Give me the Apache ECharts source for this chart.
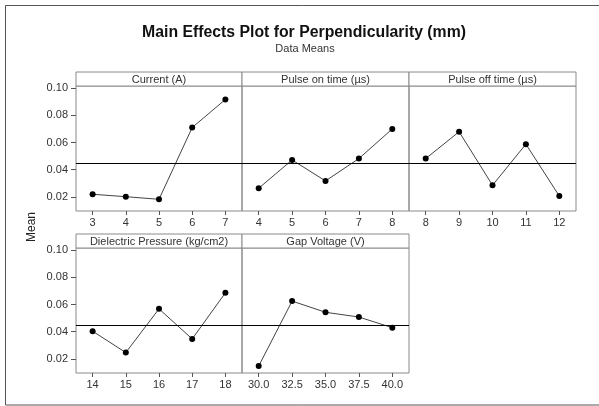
<!DOCTYPE html>
<html>
<head>
<meta charset="utf-8">
<script src="https://cdn.jsdelivr.net/npm/echarts@6/dist/echarts.min.js"></script>
<style>
html,body{margin:0;padding:0;background:#fff;}
#chart{width:599px;height:406px;}
</style>
</head>
<body>
<div id="chart"></div>
<script>
// ---- data ----
const chartTitle = 'Main Effects Plot for Perpendicularity (mm)';
const chartSubtitle = 'Data Means';
const yAxisTitle = 'Mean';
const factorNames = ['Current (A)', 'Pulse on time (µs)', 'Pulse off time (µs)', 'Dielectric Pressure (kg/cm2)', 'Gap Voltage (V)'];
const currentLevels = ['3', '4', '5', '6', '7'];
const currentMeans = [0.0220, 0.0202, 0.0183, 0.0710, 0.0916];
const pulseOnLevels = ['4', '5', '6', '7', '8'];
const pulseOnMeans = [0.0264, 0.0472, 0.0318, 0.0482, 0.0700];
const pulseOffLevels = ['8', '9', '10', '11', '12'];
const pulseOffMeans = [0.0482, 0.0679, 0.0286, 0.0588, 0.0207];
const pressureLevels = ['14', '15', '16', '17', '18'];
const pressureMeans = [0.0404, 0.0247, 0.0568, 0.0347, 0.0686];
const gapLevels = ['30.0', '32.5', '35.0', '37.5', '40.0'];
const gapMeans = [0.0148, 0.0625, 0.0543, 0.0508, 0.0430];
const grandMean = 0.0450;
const yTicks = [0.02, 0.04, 0.06, 0.08, 0.10];

const levels = [currentLevels, pulseOnLevels, pulseOffLevels, pressureLevels, gapLevels];
const means = [currentMeans, pulseOnMeans, pulseOffMeans, pressureMeans, gapMeans];

// ---- layout ----
const panelH = 125, headerH = 14;
const colEdges = [76, 242, 409, 576];
const rowTops = [86, 248];
const panelPos = [
  {col: 0, row: 0}, {col: 1, row: 0}, {col: 2, row: 0},
  {col: 0, row: 1}, {col: 1, row: 1}
];
const FONT = 'Liberation Sans';
const frameColor = '#8a8a8a';

const grids = [], xAxes = [], yAxes = [], series = [], graphics = [];
panelPos.forEach((p, i) => {
  const left = colEdges[p.col], width = colEdges[p.col + 1] - left, top = rowTops[p.row];
  const leftmost = p.col === 0;
  grids.push({left: left, top: top, width: width, height: panelH,
    show: true, borderColor: frameColor, borderWidth: 1, backgroundColor: 'transparent'});
  xAxes.push({type: 'category', gridIndex: i, data: levels[i], boundaryGap: true,
    axisLine: {show: false},
    axisTick: {show: true, alignWithLabel: true, length: 4, lineStyle: {color: '#555'}},
    axisLabel: {color: '#333', fontFamily: FONT, fontSize: 11, margin: 6},
    splitLine: {show: false}});
  yAxes.push({type: 'value', gridIndex: i, min: 0.0097, max: 0.1015,
    axisLine: {show: false},
    axisTick: {show: leftmost, length: 5, customValues: yTicks, lineStyle: {color: '#555'}},
    axisLabel: {show: leftmost, customValues: yTicks, color: '#333', fontFamily: FONT, fontSize: 11, margin: 8,
      formatter: v => v.toFixed(2)},
    splitLine: {show: false}});
  series.push({type: 'line', xAxisIndex: i, yAxisIndex: i, data: means[i],
    symbol: 'circle', symbolSize: 6, itemStyle: {color: '#000'},
    lineStyle: {color: '#444', width: 1}, animation: false, silent: true,
    markLine: {silent: true, symbol: 'none', precision: 6, label: {show: false},
      lineStyle: {color: '#000', width: 1, type: 'solid'},
      data: [{yAxis: grandMean}]}});
  graphics.push({type: 'rect', shape: {x: left, y: top - headerH, width: width, height: headerH},
    style: {fill: '#fff', stroke: frameColor, lineWidth: 1}});
  graphics.push({type: 'text', x: left + width / 2, y: top - headerH / 2 + 0.5,
    style: {text: factorNames[i], fill: '#333', font: '11px "' + FONT + '"', textAlign: 'center', textVerticalAlign: 'middle'}});
});
graphics.push({type: 'rect', shape: {x: 5.5, y: 5.5, width: 620, height: 399.5},
  style: {fill: 'none', stroke: '#555', lineWidth: 1}, z: -1});
graphics.push({type: 'text', x: 32, y: 227, rotation: Math.PI / 2,
  style: {text: yAxisTitle, fill: '#222', font: '12px "' + FONT + '"', textAlign: 'center', textVerticalAlign: 'middle'}});
graphics.push({type: 'text', x: 304, y: 33,
  style: {text: chartTitle, fill: '#111', font: 'bold 15.8px "' + FONT + '"', textAlign: 'center', textVerticalAlign: 'middle'}});
graphics.push({type: 'text', x: 305, y: 49,
  style: {text: chartSubtitle, fill: '#333', font: '11px "' + FONT + '"', textAlign: 'center', textVerticalAlign: 'middle'}});

const chart = echarts.init(document.getElementById('chart'), null, {renderer: 'canvas'});
chart.setOption({
  backgroundColor: '#fff',
  animation: false,
  grid: grids, xAxis: xAxes, yAxis: yAxes, series: series,
  graphic: graphics
});
</script>
</body>
</html>
